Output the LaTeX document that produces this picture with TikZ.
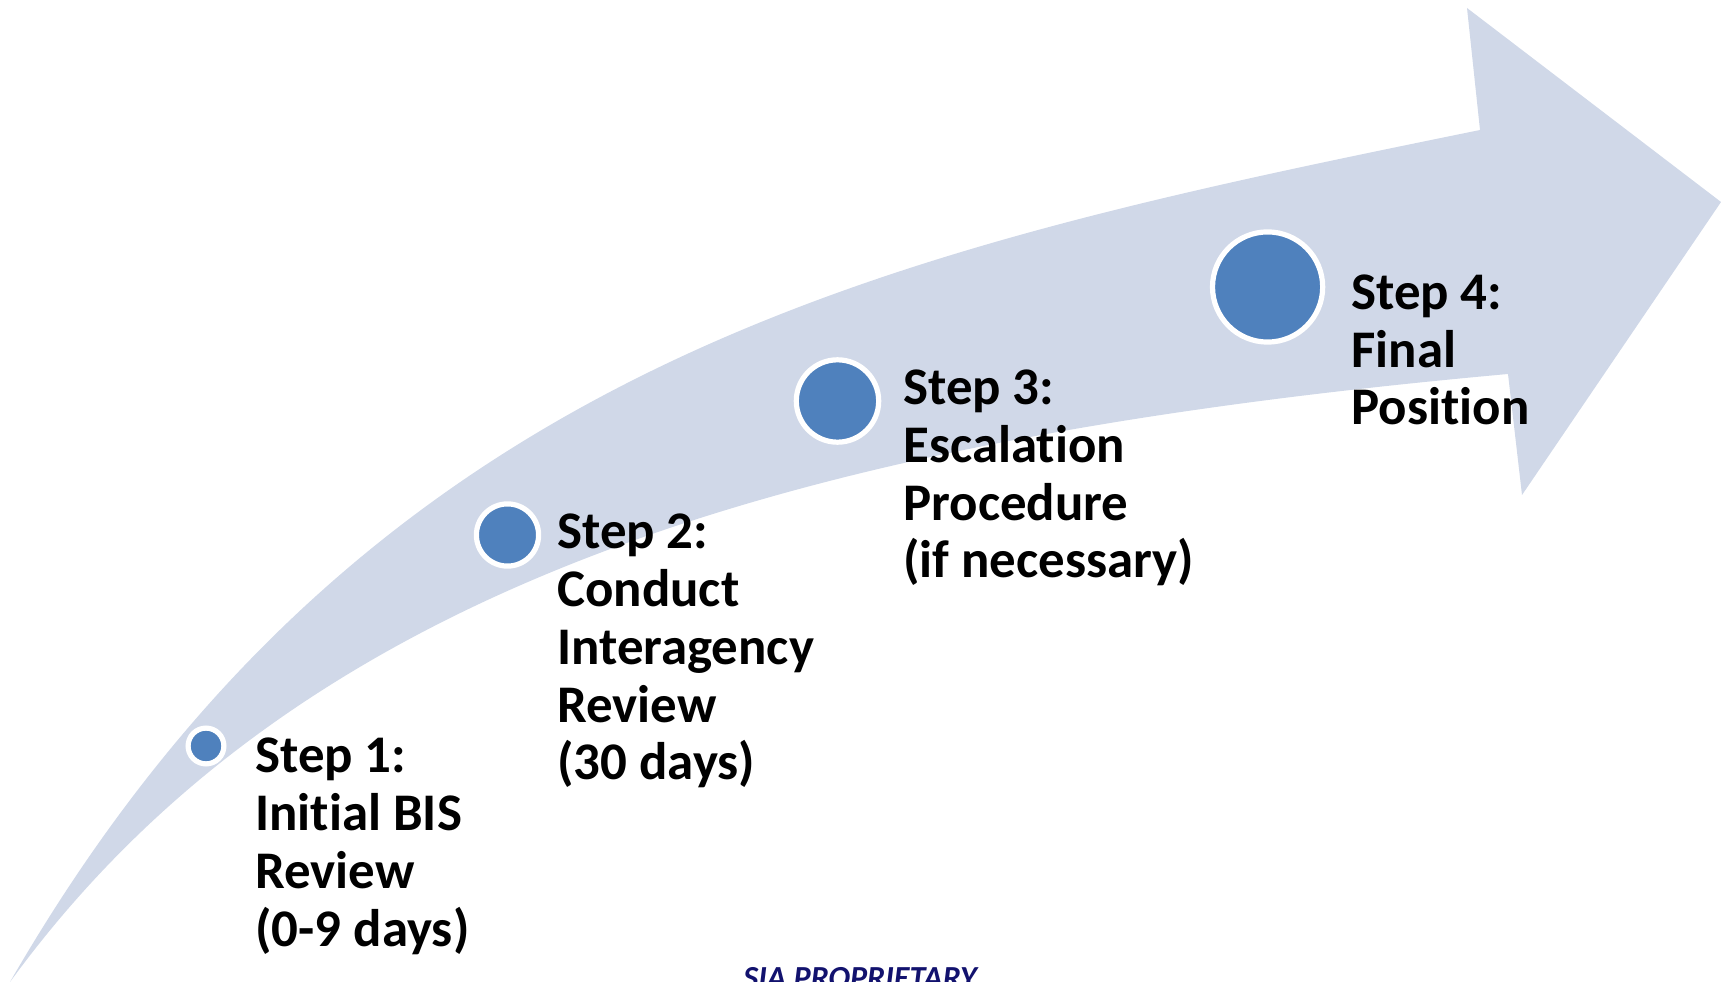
\documentclass[tikz,border=0pt]{standalone}
\usepackage{fontspec}
\setmainfont[Ligatures=NoCommon]{Carlito}
\definecolor{bandblue}{RGB}{208,216,232}
\definecolor{dotblue}{RGB}{79,129,189}
\definecolor{marknavy}{RGB}{18,18,110}
\tikzset{
  dot/.style={circle, fill=dotblue, draw=white, line width=0.104cm, inner sep=0pt},
  steptext/.style={anchor=base west, align=left, inner sep=0pt,
    font=\fontsize{30.1}{32.9}\selectfont\bfseries}
}
\begin{document}
\begin{tikzpicture}[x=0.02cm, y=-0.02cm]
% keep the page the size of the slide
\useasboundingbox (0,0) rectangle (1721,982);

% draw the curved arrow
\fill[bandblue] (10,982) .. controls (370,358) and (892,250) .. (1480,130)
  -- (1467,8) -- (1721,202) -- (1522,495) -- (1508,374)
  .. controls (811,437) and (305,577) .. (10,982) -- cycle;

% dots along the arrow
\foreach \name/\x/\y/\d in {s1/206/746/0.716cm, s2/507.5/535/1.244cm, s3/837.5/401/1.648cm, s4/1267.6/287/2.204cm}
  \node[dot, minimum size=\d] (\name) at (\x,\y) {};

% the steps (placed at the baseline of their last line)
\node[steptext] (t1) at (255,946) {Step 1:\\Initial BIS\\Review\\(0-9 days)};
\node[steptext] (t2) at (557,780) {Step 2:\\Conduct\\Interagency\\Review\\(30 days)};
\node[steptext] (t3) at (903,578) {Step 3:\\Escalation\\Procedure\\(if necessary)};
\node[steptext] (t4) at (1351,425) {Step 4:\\Final\\Position};

% marking at the bottom
\node[anchor=base west, inner sep=0pt, text=marknavy, font=\fontsize{18.3}{20}\selectfont\bfseries\itshape] (mark) at (743,988) {SIA PROPRIETARY};
\end{tikzpicture}
\end{document}
